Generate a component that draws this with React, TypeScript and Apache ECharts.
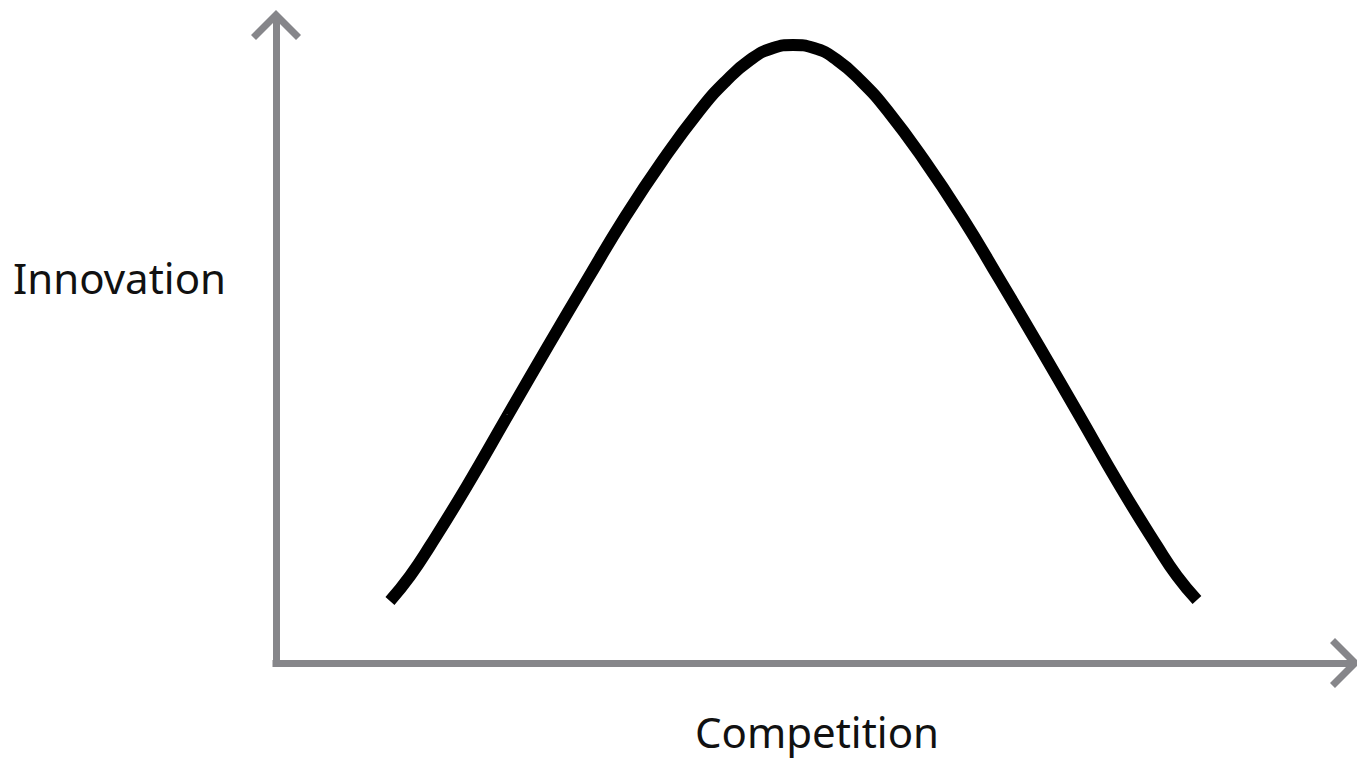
import React, { useEffect, useRef } from "react";
import * as echarts from "echarts";

// Competition (x) values, on a 0–100 scale
const competition = [
  10.61, 12.48, 14.34, 17.78, 21.6, 25.33, 28.96, 32.5, 36.03, 39.48, 41.81, 44.13, 46.28,
  48.14,
  50.09, 52.23, 54.56, 56.89, 60.34, 63.87, 67.41, 71.04, 74.77, 78.58, 82.03, 83.89, 85.75,
];
// Innovation (y) values, on a 0–100 scale
const innovation = [
  9.64, 13.53, 18.2, 27.53, 38.57, 49.3, 59.56, 69.36, 78.23, 86.0, 90.36, 93.78, 95.65,
  96.11,
  95.65, 93.78, 90.36, 86.0, 78.23, 69.36, 59.56, 49.3, 38.57, 27.53, 18.2, 13.53, 9.8,
];

const xLabel = "Competition";
const yLabel = "Innovation";

const AXIS_GRAY = "#86868a";
const ARROW = "path://M25,0 L50,25 L45,30 L25,10 L5,30 L0,25 Z";

export default function App() {
  const ref = useRef<HTMLDivElement>(null);

  useEffect(() => {
    if (!ref.current) return;
    const chart = echarts.init(ref.current, undefined, { renderer: "svg" });
    const data = competition.map((c, i) => [c, innovation[i]]);
    const axisLine = {
      show: true,
      onZero: false,
      symbol: ["none", ARROW],
      symbolSize: [50, 30],
      symbolOffset: [0, -5],
      lineStyle: { color: AXIS_GRAY, width: 7, cap: "square" },
    };
    chart.setOption({
      animation: false,
      backgroundColor: "#ffffff",
      grid: { left: 276, right: 7, top: 20, bottom: 95, containLabel: false },
      xAxis: {
        type: "value",
        min: 0,
        max: 100,
        axisLine,
        axisTick: { show: false },
        axisLabel: { show: false },
        splitLine: { show: false },
      },
      yAxis: {
        type: "value",
        min: 0,
        max: 100,
        axisLine,
        axisTick: { show: false },
        axisLabel: { show: false },
        splitLine: { show: false },
      },
      graphic: [
        {
          type: "text",
          x: 226,
          y: 277,
          style: {
            text: yLabel,
            fill: "#111111",
            fontSize: 42,
            fontFamily: "Noto Sans",
            align: "right",
            textAlign: "right",
            verticalAlign: "middle",
            textVerticalAlign: "middle",
          },
        },
        {
          type: "text",
          x: 817,
          y: 731,
          style: {
            text: xLabel,
            fill: "#111111",
            fontSize: 42,
            fontFamily: "Noto Sans",
            align: "center",
            textAlign: "center",
            verticalAlign: "middle",
            textVerticalAlign: "middle",
          },
        },
      ],
      series: [
        {
          type: "line",
          data,
          smooth: 0.5,
          symbol: "none",
          lineStyle: { color: "#000000", width: 12, cap: "butt" },
        },
      ],
    });
    return () => chart.dispose();
  }, []);

  return (
    <div
      ref={ref}
      style={{ position: "fixed", left: 0, top: 0, width: 1357, height: 758, background: "#fff" }}
    />
  );
}
